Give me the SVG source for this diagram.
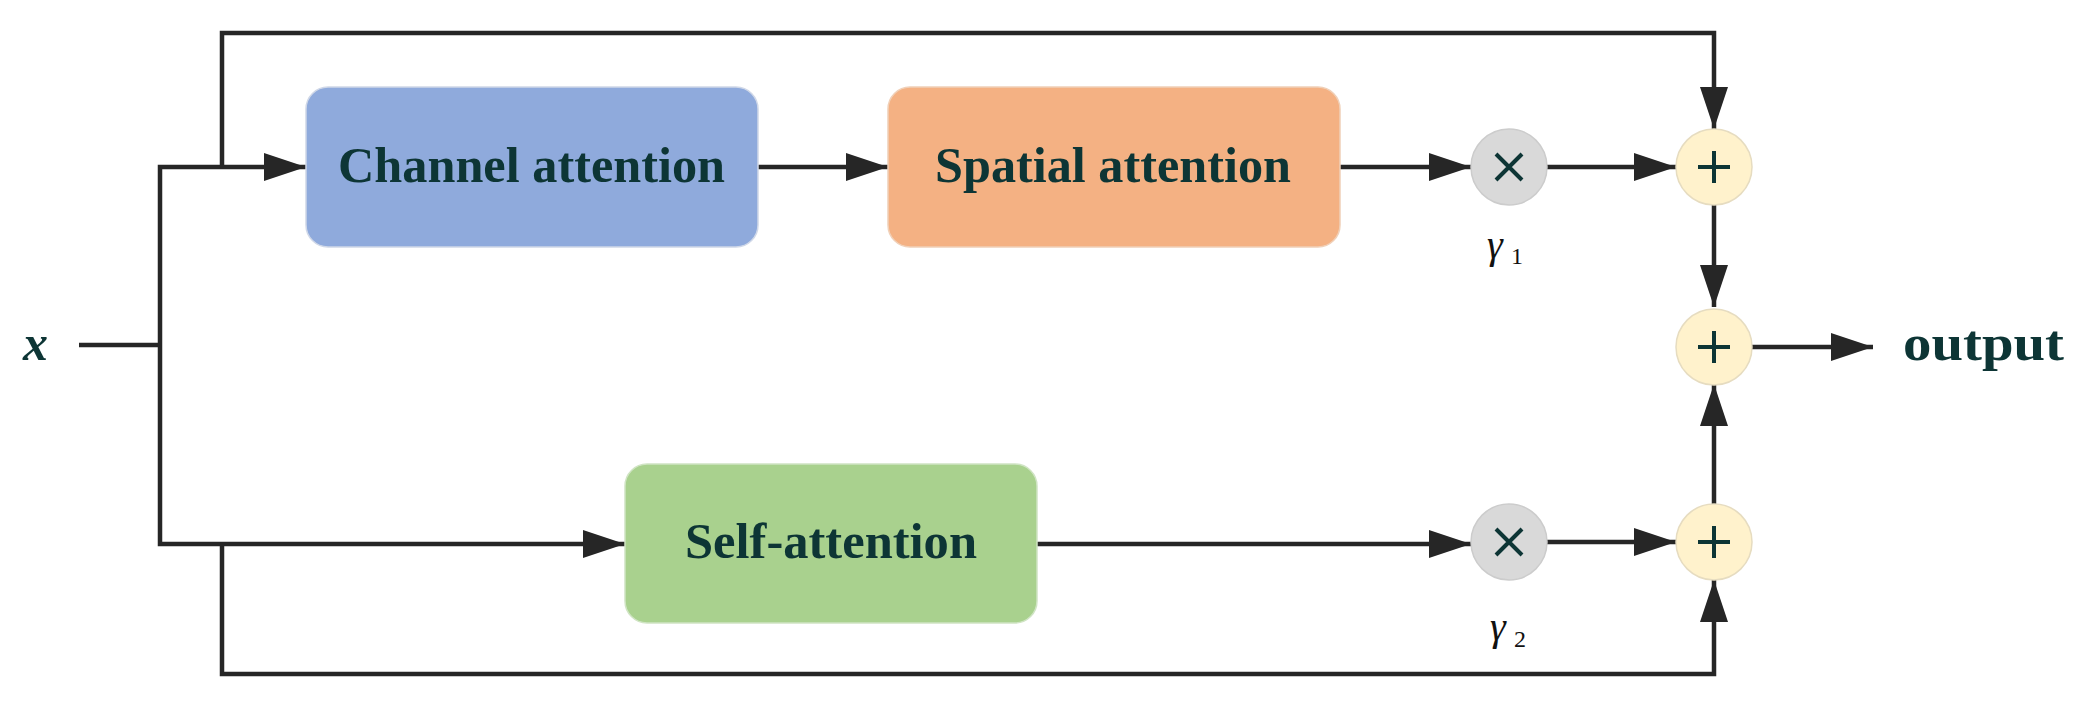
<svg xmlns="http://www.w3.org/2000/svg" width="2086" height="706" viewBox="0 0 2086 706">
<defs>
<marker id="ah" viewBox="0 0 10 10" refX="10" refY="5" markerWidth="10" markerHeight="7" markerUnits="userSpaceOnUse" orient="auto"><path d="M0,0 L10,5 L0,10 z" fill="#262626"/></marker>
<marker id="a" viewBox="0 0 42 28" refX="42" refY="14" markerWidth="42" markerHeight="28" markerUnits="userSpaceOnUse" orient="auto"><path d="M0,0 L42,14 L0,28 z" fill="#262626"/></marker>
</defs>
<style>
.l{fill:none;stroke:#262626;stroke-width:4.5}
.t{font-family:"Liberation Serif",serif;font-weight:bold;fill:#0d3535}
.g{font-family:"Liberation Serif",serif;font-style:italic;fill:#111}
.s{font-family:"Liberation Serif",serif;fill:#111}
.m{fill:#d9d9d9;stroke:#cccccc;stroke-width:1.5}
.p{fill:#fff2cc;stroke:#e6dcc0;stroke-width:1.5}
.sym{stroke:#0d3535;stroke-width:4;fill:none}
</style>
<rect width="2086" height="706" fill="#fff"/>
<g id="connectors">
<path class="l" d="M79,345 H160"/>
<path class="l" d="M160,345 V167 H306" marker-end="url(#a)"/>
<path class="l" d="M160,345 V544 H625" marker-end="url(#a)"/>
<path class="l" d="M222,167 V33 H1714 V129" marker-end="url(#a)"/>
<path class="l" d="M222,544 V674 H1714 V580" marker-end="url(#a)"/>
<path class="l" d="M758,167 H888" marker-end="url(#a)"/>
<path class="l" d="M1340,167 H1471" marker-end="url(#a)"/>
<path class="l" d="M1547,167 H1676" marker-end="url(#a)"/>
<path class="l" d="M1037,544 H1471" marker-end="url(#a)"/>
<path class="l" d="M1547,542 H1676" marker-end="url(#a)"/>
<path class="l" d="M1714,205 V307" marker-end="url(#a)"/>
<path class="l" d="M1714,504 V384" marker-end="url(#a)"/>
<path class="l" d="M1752,347 H1873" marker-end="url(#a)"/>
</g>
<g id="x-label"><text class="t" x="23" y="360" font-size="50" font-style="italic">x</text></g>
<g id="channel"><rect x="306" y="87" width="452" height="160" rx="22" fill="#8faadc" stroke="#d0d8e8" stroke-width="1.5"/><text class="t" x="338" y="182" font-size="50" textLength="387" lengthAdjust="spacingAndGlyphs">Channel attention</text></g>
<g id="spatial"><rect x="888" y="87" width="452" height="160" rx="22" fill="#f4b183" stroke="#f0d0b8" stroke-width="1.5"/><text class="t" x="935" y="182" font-size="50" textLength="356" lengthAdjust="spacingAndGlyphs">Spatial attention</text></g>
<g id="self"><rect x="625" y="464" width="412" height="159" rx="22" fill="#a9d18e" stroke="#d0e4c4" stroke-width="1.5"/><text class="t" x="685" y="558" font-size="50" textLength="292" lengthAdjust="spacingAndGlyphs">Self-attention</text></g>
<g id="mul1"><circle class="m" cx="1509" cy="167" r="38"/><path class="sym" d="M1496,154 L1522,180 M1522,154 L1496,180"/><text class="g" x="1487" y="258" font-size="40">γ</text><text class="s" x="1511" y="264" font-size="24">1</text></g>
<g id="mul2"><circle class="m" cx="1509" cy="542" r="38"/><path class="sym" d="M1496,529 L1522,555 M1522,529 L1496,555"/><text class="g" x="1490" y="640" font-size="40">γ</text><text class="s" x="1514" y="647" font-size="24">2</text></g>
<g id="add1"><circle class="p" cx="1714" cy="167" r="38"/><path class="sym" d="M1714,151 V183 M1698,167 H1730"/></g>
<g id="add2"><circle class="p" cx="1714" cy="347" r="38"/><path class="sym" d="M1714,331 V363 M1698,347 H1730"/></g>
<g id="add3"><circle class="p" cx="1714" cy="542" r="38"/><path class="sym" d="M1714,526 V558 M1698,542 H1730"/></g>
<g id="output"><text class="t" x="1903" y="360" font-size="50" textLength="161" lengthAdjust="spacingAndGlyphs">output</text></g>
</svg>
